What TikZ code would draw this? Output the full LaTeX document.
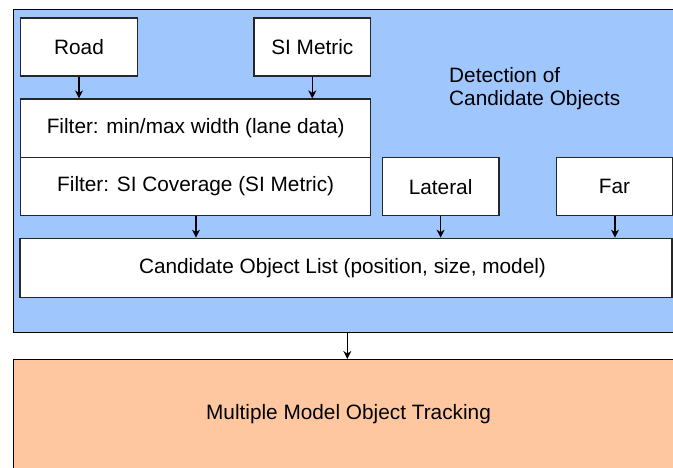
\documentclass[tikz,border=0pt]{standalone}
\usepackage{fontspec}
\setmainfont{Liberation Sans}
\usetikzlibrary{arrows.meta}
\definecolor{stageblue}{RGB}{160,198,254}
\definecolor{stageorange}{RGB}{254,199,160}
\begin{document}
\begin{tikzpicture}[x=1pt,y=-1pt,
  font=\fontsize{20.8}{22.7}\selectfont,
  frame/.style={draw=black, line width=1.4pt},
  stage/.style={frame, anchor=north west, inner sep=0pt},
  block/.style={draw=black!85, line width=1.3pt, fill=white, inner sep=0pt},
  flow/.style={line width=1.3pt, -{Stealth[length=8pt,width=8pt,inset=2.5pt]}}]
\useasboundingbox (0,0) rectangle (673,468);
\clip (0,0) rectangle (673,468);

% the two processing stages (they run past the right and bottom edges)
\node[stage, fill=stageblue, minimum width=700pt, minimum height=323pt] (detect) at (12.5,9) {};
\node[stage, fill=stageorange, minimum width=700pt, minimum height=130pt] (track) at (12.5,359) {};

% inputs and filters inside the detection stage
\node[block, minimum width=116.6pt, minimum height=58pt] (road) at (79,47) {Road};
\node[block, minimum width=116.6pt, minimum height=58pt] (metric) at (312.3,47) {SI Metric};
\node[block, minimum width=350pt, minimum height=58.3pt] (width) at (195.7,128.2) {Filter: min/max width (lane data)};
\node[block, minimum width=350pt, minimum height=58pt] (cover) at (195.7,186.3) {Filter: SI Coverage (SI Metric)};
\node[block, minimum width=116.6pt, minimum height=58pt] (lateral) at (440.6,186.6) {Lateral};
\node[block, minimum width=115.5pt, minimum height=58pt] (far) at (614.4,186.6) {Far};
\node[block, minimum width=652pt, minimum height=59pt] (list) at (346,267.8)
  {Candidate Object List (position, size, model)\hspace*{7pt}};

\node[anchor=north west, inner sep=0pt, align=left] (title) at (449,67.5)
  {Detection of\\Candidate Objects};

\node (tracking) at (348.5,414.5) {Multiple Model Object Tracking};

% connectors
\draw[flow] (road) -- (road |- width.north);
\draw[flow] (metric) -- (metric |- width.north);
\draw[flow] ([xshift=0.3pt]cover.south) -- ([xshift=0.3pt]cover.south |- list.north);
\draw[flow] (lateral) -- (lateral |- list.north);
\draw[flow] ([xshift=0.6pt]far.south) -- ([xshift=0.6pt]far.south |- list.north);
\draw[flow] (347.3,332) -- (347.3,359);
\end{tikzpicture}
\end{document}
